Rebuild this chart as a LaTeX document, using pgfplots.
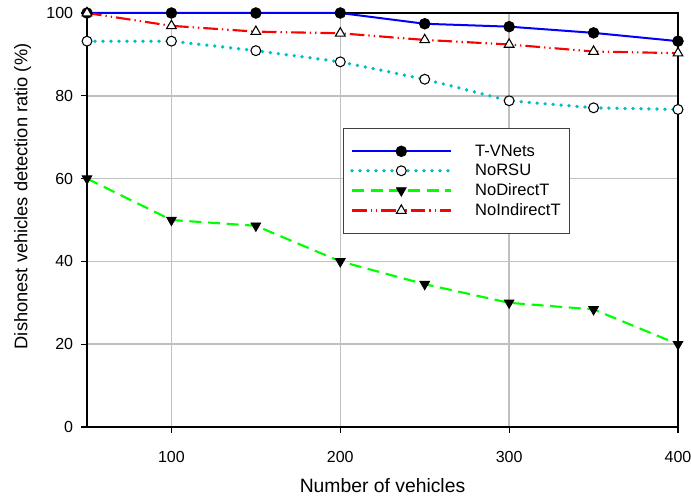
\documentclass[border=0pt]{standalone}
\usepackage{fontspec}
\setmainfont{Liberation Sans}
\usepackage{pgfplots}
\pgfplotsset{compat=1.18}
\definecolor{myblue}{RGB}{0,0,255}
\definecolor{mycyan}{RGB}{0,191,191}
\definecolor{mygreen}{RGB}{0,255,0}
\definecolor{myred}{RGB}{255,0,0}
\definecolor{gridgray}{RGB}{192,192,192}
\begin{document}
\begin{tikzpicture}
\useasboundingbox (-65.25pt,-52.5pt) rectangle (453pt,320.25pt);
\begin{axis}[
  at={(0pt,0pt)}, anchor=south west,
  scale only axis, width=443.25pt, height=310.5pt,
  xmin=50, xmax=400, ymin=0, ymax=100,
  xtick={100,200,300,400}, ytick={0,20,40,60,80,100},
  grid=major, grid style={color=gridgray, line width=1.1pt},
  axis line style={black, line width=0.9pt},
  tick align=outside, tick pos=left, major tick length=4.3pt,
  tick style={black, line width=0.9pt},
  /pgf/number format/assume math mode=true,
  tick label style={font=\fontsize{12}{14}\selectfont},
  xticklabel style={yshift=-10.3pt},
  yticklabel style={xshift=-2.6pt},
  xlabel={Number of vehicles},
  ylabel={Dishonest vehicles detection ratio (\%)},
  xlabel style={at={(axis description cs:0.5,-0.1425)}, anchor=center, font=\fontsize{14.5}{17}\selectfont},
  ylabel style={at={(axis description cs:-0.109,0.557)}, anchor=center, font=\fontsize{13.7}{16}\selectfont},
  clip=false,
  legend style={at={(0.433,0.722)}, anchor=north west, draw=black!75, line width=0.8pt,
    font=\fontsize{12.4}{14}\selectfont, row sep=0.5pt, inner xsep=5pt, inner ysep=10pt,
    /tikz/every odd column/.append style={column sep=15pt}},
  legend cell align=left,
  legend image code/.code={\draw[mark repeat=2,mark phase=2] plot coordinates {(0pt,0pt)(37pt,0pt)(74pt,0pt)};},
]
\addplot[color=myblue, line width=1.5pt, mark=*, mark size=4pt, mark options={fill=black, draw=black, solid, line width=0.6pt}]
  coordinates {(50,100)(100,100)(150,100)(200,100)(250,97.4)(300,96.7)(350,95.2)(400,93.2)};
\addlegendentry{T-VNets}
\addplot[color=mycyan, line width=2.8pt, line cap=round, dash pattern=on 0pt off 6pt, mark=*, mark size=3.7pt, mark options={fill=white, draw=black, solid, line width=0.8pt}]
  coordinates {(50,93.2)(100,93.2)(150,90.9)(200,88.2)(250,84.0)(300,78.8)(350,77.1)(400,76.7)};
\addlegendentry{NoRSU}
\addplot[color=mygreen, line width=1.6pt, dash pattern=on 9pt off 5pt, mark=triangle*, mark size=4.2pt, mark options={rotate=180, fill=black, draw=black, solid, line width=0.6pt}]
  coordinates {(50,60)(100,50)(150,48.6)(200,40)(250,34.5)(300,30)(350,28.4)(400,20)};
\addlegendentry{NoDirectT}
\addplot[color=myred, line width=1.6pt, dash pattern=on 11pt off 3pt on 1pt off 3pt on 1pt off 3pt, mark=triangle*, mark size=4.2pt, mark options={fill=white, draw=black, solid, line width=0.8pt}]
  coordinates {(50,100)(100,96.9)(150,95.5)(200,95.1)(250,93.5)(300,92.4)(350,90.7)(400,90.3)};
\addlegendentry{NoIndirectT}
\end{axis}
\end{tikzpicture}
\end{document}
